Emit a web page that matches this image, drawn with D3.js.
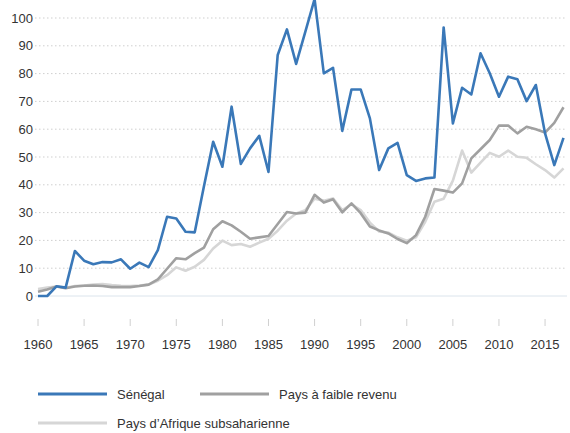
<!DOCTYPE html>
<html><head><meta charset="utf-8">
<script src="https://cdn.jsdelivr.net/npm/d3@7"></script>
<style>body{margin:0;background:#fff;}svg{display:block;font-family:"Liberation Sans",Arial,sans-serif;}</style>
</head><body><svg id="c" width="570" height="433"></svg>
<script>
const years = d3.range(1960, 2018);
const senegal = [0,0,3.5,3,16.2,12.7,11.4,12.2,12.1,13.2,9.8,12,10.4,16.5,28.5,27.9,23.1,22.9,39.5,55.5,46.5,68.1,47.5,53.1,57.6,44.6,86.7,95.9,83.5,95.1,106.8,80.1,82.1,59.4,74.3,74.3,63.9,45.3,53.1,55.1,43.5,41.4,42.3,42.6,96.6,62.1,74.9,72.5,87.3,80.1,71.7,78.9,78,70.1,75.9,58.5,47.1,56.9];
const lowIncome = [1.5,2.3,3.4,2.8,3.4,3.7,3.8,3.6,3.2,3.2,3.2,3.6,4.1,6,9.8,13.6,13.2,15.4,17.4,24,26.9,25.4,23.1,20.6,21.1,21.6,25.9,30.2,29.7,30,36.4,33.6,34.8,30.1,33.3,29.8,25,23.6,22.5,20.5,19,21.9,28.5,38.5,37.9,37.2,40.5,49.5,52.8,56.1,61.3,61.3,58.5,60.9,60,58.8,62.3,67.9];
const ssa = [2.5,3,3.4,3,3.6,3.8,4.1,4.3,3.9,3.7,3.6,3.8,4.1,5.5,7.5,10.3,9.1,10.5,13,17.1,19.9,18.3,18.7,17.7,19.2,20.6,23.5,27.1,29.7,30.9,35,34.3,35.1,30.9,33,30.9,26.4,23.2,22.8,21.1,19.9,21.1,26.7,33.9,35,41.5,52.3,44.4,48,51.5,50.1,52.3,50.1,49.7,47.4,45.3,42.6,45.9];
const yTicks = [0,10,20,30,40,50,60,70,80,90,100];
const xTicks = [1960,1965,1970,1975,1980,1985,1990,1995,2000,2005,2010,2015];
const seriesNames = ["Sénégal","Pays à faible revenu","Pays d’Afrique subsaharienne"];

const svg = d3.select("#c");
const x = d3.scaleLinear().domain([1960, 2017]).range([38, 563.5]);
const y = d3.scaleLinear().domain([0, 100]).range([296, 18]);

// gridlines
svg.append("g").selectAll("line").data(yTicks.filter(d => d > 0)).join("line")
  .attr("x1", 35).attr("x2", 567)
  .attr("y1", d => y(d)).attr("y2", d => y(d))
  .attr("stroke", "#cfcfcf").attr("stroke-width", 1).attr("stroke-dasharray", "1.5,2.5");
svg.append("line").attr("x1", 35).attr("x2", 567).attr("y1", y(0)).attr("y2", y(0))
  .attr("stroke", "#dbe4ec").attr("stroke-width", 1);

// y labels
svg.append("g").selectAll("text").data(yTicks).join("text")
  .attr("x", 33).attr("y", d => y(d)).attr("dy", "0.35em")
  .attr("text-anchor", "end").attr("font-size", 13).attr("fill", "#333")
  .text(d => d);

// x ticks
const xg = svg.append("g");
xg.selectAll("line").data(xTicks).join("line")
  .attr("x1", d => x(d)).attr("x2", d => x(d)).attr("y1", 319).attr("y2", 326)
  .attr("stroke", "#d0d0d0").attr("stroke-width", 1);
xg.selectAll("text").data(xTicks).join("text")
  .attr("x", d => x(d)).attr("y", 349).attr("text-anchor", "middle")
  .attr("font-size", 13).attr("fill", "#333").text(d => d);

const line = d3.line().x((d, i) => x(years[i])).y(d => y(d));
const colors = ["#3a78b8", "#a0a0a0", "#d6d6d6"];
const data = [senegal, lowIncome, ssa];
[2, 1, 0].forEach(k => {
  svg.append("path").datum(data[k]).attr("d", line)
    .attr("fill", "none").attr("stroke", colors[k]).attr("stroke-width", 2.6)
    .attr("stroke-linejoin", "round");
});

// legend
const leg = [{x: 38, y: 394}, {x: 200, y: 394}, {x: 38, y: 423}];
leg.forEach((p, i) => {
  svg.append("line").attr("x1", p.x).attr("x2", p.x + 69).attr("y1", p.y).attr("y2", p.y)
    .attr("stroke", colors[i]).attr("stroke-width", 3);
  svg.append("text").attr("x", p.x + 79).attr("y", p.y).attr("dy", "0.35em")
    .attr("font-size", 13).attr("fill", "#333").text(seriesNames[i]);
});
</script></body></html>
